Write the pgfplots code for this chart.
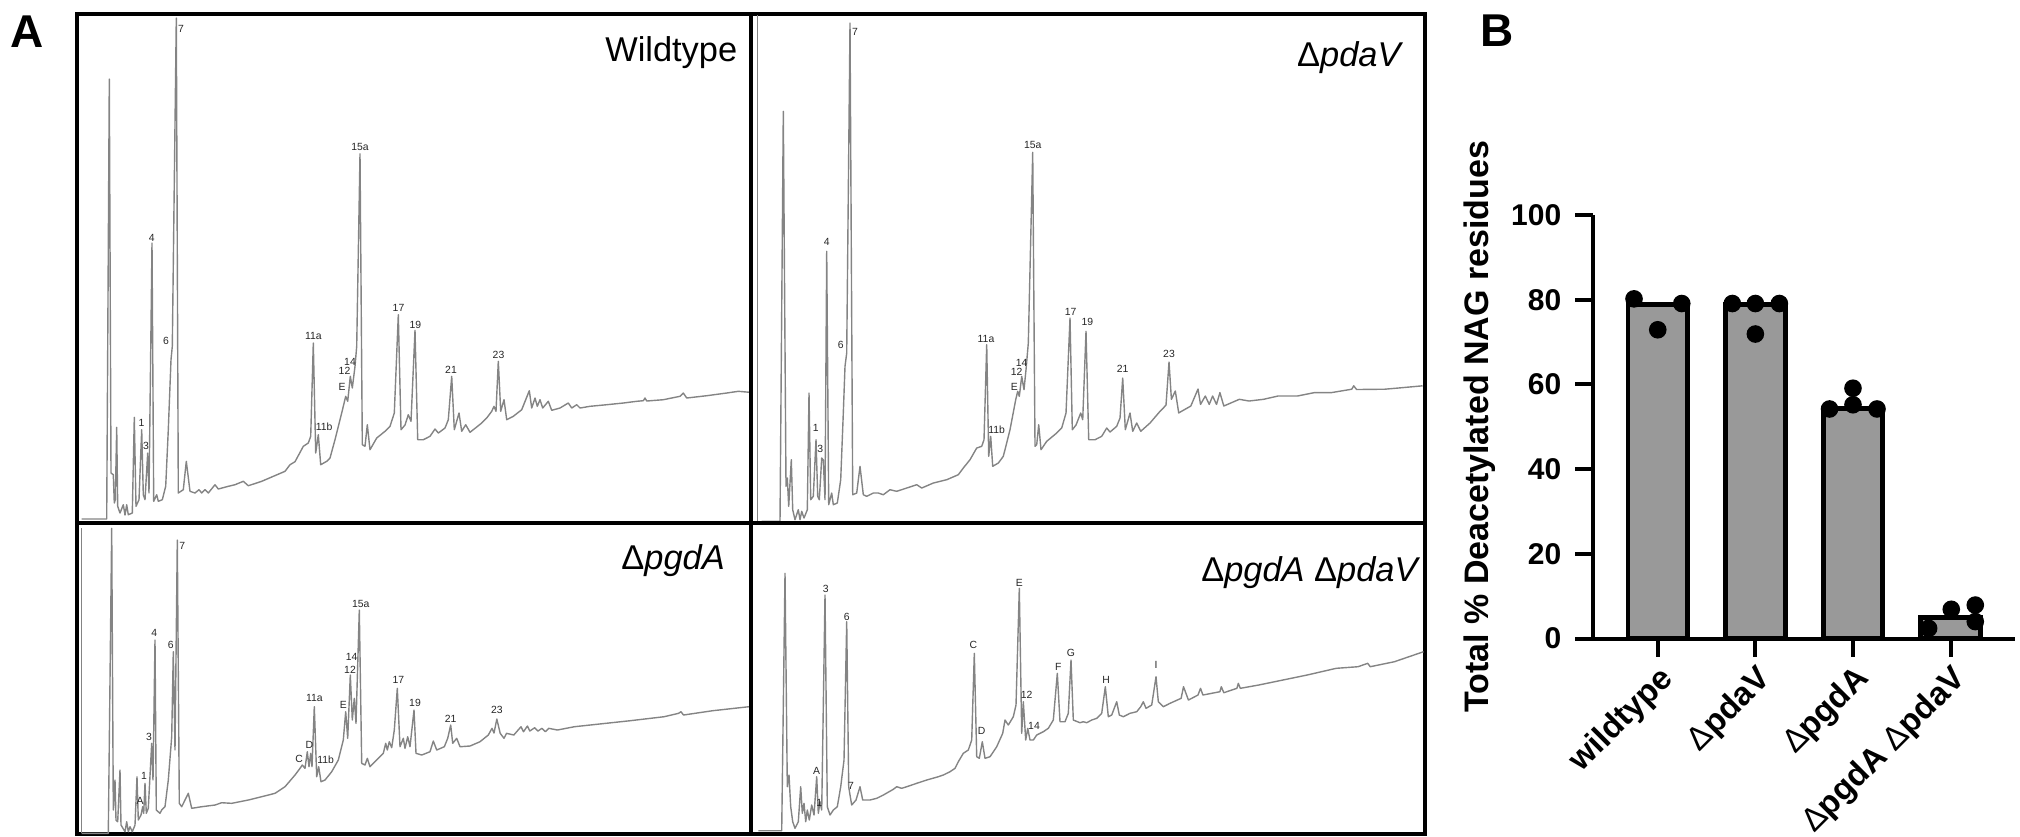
\documentclass[border=0pt]{standalone}
\usepackage{fontspec}
\setmainfont{Liberation Sans}
\usepackage{pgfplots}
\pgfplotsset{compat=1.18}

\definecolor{trace}{RGB}{132,132,132}
\definecolor{barfill}{RGB}{153,153,153}

% chromatograms: coordinates are pixel positions
\pgfplotsset{
  chrom/.style={scale only axis, anchor=south west, y dir=reverse, ticks=none,
    axis line style={line width=1pt}, clip=false},
  trace/.style={color=trace, line width=0.35pt, mark=none, line join=round},
}
\tikzset{
  pk/.style={font=\fontsize{2.6}{3}\selectfont, text=black!85, inner sep=0pt},
  tag/.style={font=\fontsize{8.6}{10}\selectfont, anchor=base east, inner sep=0pt},
}

\begin{document}
\begin{tikzpicture}
\useasboundingbox (0,0) rectangle (505pt,-209pt);

\node[anchor=base west, inner sep=0pt, font=\bfseries\fontsize{11.5}{12}\selectfont] at (2.5pt,-11.75pt) {A};
\node[anchor=base west, inner sep=0pt, font=\bfseries\fontsize{11.5}{12}\selectfont] at (370pt,-11.7pt) {B};

% ---- wildtype
\begin{axis}[chrom, at={(19.125pt,-130.625pt)}, width=168.5pt, height=127.25pt,
  xmin=76.5, xmax=750.5, ymin=13.5, ymax=522.5]
\addplot[trace] coordinates {
(81.7,519) (106.7,519) (109.3,79) (111,473) (113.3,474.7) (114.3,503) (115.3,499.7) (116.7,427.3)
(117.7,506.3) (120,513) (123.3,504.7) (125,515) (126.7,504.7) (128.3,514.7) (132.3,513) (134.3,417.3)
(136,506.3) (139,499.7) (141.7,429.7) (143.3,494.7) (145,499.7) (147.7,453) (149,493) (152,243)
(153.7,501.3) (156.7,494.7) (158.3,501.3) (162.3,499.7) (165.7,486.3) (168.3,429.7) (171,359.7) (172.3,346.3)
(176.3,18) (178.3,493) (183.3,489.7) (186.3,461.3) (190,491.3) (195,493) (199,489.7) (201.7,493)
(205,489.7) (208.3,493) (215,484.7) (218.3,489) (228.3,486.3) (235,484.7) (243.3,481.3) (248.3,485.7)
(261.7,481.3) (273.3,476.3) (285,471.3) (290,464.7) (295,461.7) (303.3,446.3) (308.3,443) (310.7,436.3)
(313.3,343) (315.7,453) (318.3,434.7) (320.7,464.7) (326.7,461.3) (330,458) (335,439.7) (341.7,413)
(345.7,396.3) (347.7,401.3) (350.3,376.3) (352.3,388) (355,366.3) (356.7,346.3) (360,153.7) (362.3,444.7)
(365,446.3) (367.3,424.7) (370,449.7) (376.7,438) (385,431.3) (390,426.3) (394.3,413) (398.3,314.7)
(401,429.7) (405,425) (408.3,414.7) (411,421.3) (415,330.3) (417.7,439.7) (423.3,439.7) (430,436.3)
(435,429) (438.3,433) (445,428) (448.3,419.7) (451.7,376.3) (454.3,429.7) (459,413) (461.7,431.3)
(465.7,424.7) (470,432.3) (481.7,423) (486.7,418) (491.7,411.3) (494,406.3) (496,411.3) (498.3,361.3)
(500.7,411.3) (504,399.7) (506.7,419.7) (513.3,416.3) (521.7,409.7) (529.3,390.7) (531.7,408) (535,398)
(537.3,406.3) (540,399.7) (542.7,408) (548.3,401.3) (551.7,410.3) (560,408) (568.3,403) (571.7,408)
(576.7,404.7) (580,408) (590,406.3) (606.7,404.7) (623.3,403) (636.7,401.3) (643.3,400.7) (645,398)
(646.7,401) (663.3,399.7) (680,396.3) (683.3,393) (686.7,398) (706.7,395.7) (726.7,393) (738.3,391.3)
(750,392.3)
};
\node[tag] at (axis cs:738,61.3) {Wildtype};
\node[pk] at (axis cs:181,29) {7};
\node[pk] at (axis cs:360,147.3) {15a};
\node[pk] at (axis cs:151.7,237.7) {4};
\node[pk] at (axis cs:166,341) {6};
\node[pk] at (axis cs:141.5,423.3) {1};
\node[pk] at (axis cs:146,446.3) {3};
\node[pk] at (axis cs:313.3,336.3) {11a};
\node[pk] at (axis cs:324.2,426.3) {11b};
\node[pk] at (axis cs:342.2,386.7) {E};
\node[pk] at (axis cs:344.5,371) {12};
\node[pk] at (axis cs:350,362) {14};
\node[pk] at (axis cs:398.5,308.3) {17};
\node[pk] at (axis cs:415.3,324.5) {19};
\node[pk] at (axis cs:451,370) {21};
\node[pk] at (axis cs:498.5,355) {23};
\end{axis}

% ---- delta pdaV
\begin{axis}[chrom, at={(187.625pt,-130.625pt)}, width=168.625pt, height=127.25pt,
  xmin=750.5, xmax=1425, ymin=13.5, ymax=522.5]
\addplot[trace] coordinates {(757.3,15) (757.3,522)};
\addplot[trace] coordinates {
(761.7,521.3) (780,521.3) (783.3,111.3) (786,486.3) (787.3,478) (788.7,506.3) (791.3,459.7) (792.7,509.7)
(795,519.7) (798.3,509.7) (800,519.7) (801.7,511.3) (804,518) (807.3,509.7) (809,393) (810.7,499.7)
(813.3,496.3) (816,439.7) (817.7,496.3) (819.3,499.7) (821.7,458) (823.3,460) (825,499.7) (826.7,251.3)
(828.7,504.7) (831.7,493) (833.3,504.7) (837.3,503) (840.7,479.7) (843.3,413) (845,366.3) (846.7,353)
(850,23) (852.7,494.7) (856.7,493) (860,466.3) (863.3,494.7) (866.7,496.3) (873.3,493) (878.3,493)
(883.3,494.7) (890,489.7) (896.7,491.3) (906.7,488) (916.7,484.7) (921.7,488) (933.3,483) (946.7,479.7)
(958.3,474.7) (963.3,468) (970,459.7) (976.7,448) (981.7,446.3) (984,439.7) (986.7,344.7) (988.7,456.3)
(990.7,436.3) (992.7,466.3) (998.3,463) (1003.3,456.3) (1010,429.7) (1015.7,399.7) (1017.7,391.3) (1019.3,396.3)
(1021.7,376.3) (1024,389.7) (1026,369.7) (1028.3,343) (1032.7,152.3) (1035,446.3) (1036.7,444.7) (1038.7,424.7)
(1041,449.7) (1046.7,441.3) (1056.7,433) (1061.7,428) (1066,413) (1070,318) (1072.3,429.7) (1076,425)
(1080.7,413) (1082.7,419.7) (1086,331.3) (1088.7,439.7) (1095,439.7) (1101.7,436.3) (1106.7,428) (1110,432)
(1116.7,426.3) (1120,418) (1122.7,378) (1125.3,429.7) (1130,413) (1132.7,431.3) (1136.7,423) (1140.7,431.3)
(1150,423) (1160,411.3) (1163.3,408) (1166,405) (1169,362) (1171.4,399.3) (1175.3,391) (1178.7,412.9)
(1190.8,406) (1198,389) (1200.5,404.4) (1205.3,396) (1209.2,404.4) (1212.6,396) (1216.5,404.4) (1219.9,392.6)
(1223.8,406) (1239.3,399.3) (1249,401) (1263.5,399.3) (1278,396) (1297.4,396) (1314.4,392.6) (1331.4,392.6)
(1351.7,389.2) (1353.7,385.8) (1356.6,389.5) (1384.7,389.2) (1404,387.5) (1422.5,385.8)
};
\node[tag] at (axis cs:1404,66) {Δ\textit{pdaV}};
\node[pk] at (axis cs:855,32.3) {7};
\node[pk] at (axis cs:1032.7,145.3) {15a};
\node[pk] at (axis cs:826.7,242.3) {4};
\node[pk] at (axis cs:840.7,345.3) {6};
\node[pk] at (axis cs:815.7,428) {1};
\node[pk] at (axis cs:820.3,449) {3};
\node[pk] at (axis cs:986,339) {11a};
\node[pk] at (axis cs:996.7,429.7) {11b};
\node[pk] at (axis cs:1014.3,387.3) {E};
\node[pk] at (axis cs:1016.7,372.3) {12};
\node[pk] at (axis cs:1021.7,363) {14};
\node[pk] at (axis cs:1070.7,312.3) {17};
\node[pk] at (axis cs:1087.3,322.3) {19};
\node[pk] at (axis cs:1122.7,369) {21};
\node[pk] at (axis cs:1169,353.6) {23};
\end{axis}

% ---- delta pgdA
\begin{axis}[chrom, at={(19.125pt,-208.5pt)}, width=168.5pt, height=77.875pt,
  xmin=76.5, xmax=750.5, ymin=522.5, ymax=834]
\addplot[trace] coordinates {(81.7,528) (81.7,833)};
\addplot[trace] coordinates {
(81.7,833.3) (108.3,833.3) (111.7,528.3) (113.3,810) (115,780) (116,820) (117.7,821.7) (120,770)
(121,825) (125,831.7) (126.7,821.7) (128.3,831.7) (130,826.7) (132.3,831.7) (135,825) (137,776.7)
(138.3,820) (141,815) (142.7,806.7) (143.7,813.3) (145,783.3) (146.3,813.3) (148.3,808.3) (151.7,743.3)
(153,780) (155,640) (156.3,810) (160,813.3) (161.7,810) (165,806.7) (168.3,780) (171.7,736.7)
(173.3,651.7) (175,750) (177.3,540) (179.3,803.3) (181.7,806.7) (188.3,793.3) (191.7,808.3) (201.7,806.7)
(215,805) (221.7,802.7) (231.7,803.3) (248.3,800) (261.7,796.7) (275,793.3) (285,786.7) (295,775)
(300,768.3) (302.3,765) (305,768.3) (307.3,751.7) (309,766.7) (310.7,753.3) (312,766.7) (314.3,706.7)
(316.7,776.7) (318.7,766.7) (321,781.7) (325,780) (331.7,771.7) (338.3,760) (343.3,740) (345.7,711.7)
(347.7,738.3) (350.3,675) (352.3,720) (354.3,698.3) (356,723.3) (359.3,610) (361.7,763.3) (365,765)
(367.3,758.3) (370,766.7) (376.7,760) (383.3,753.3) (385.7,743.3) (387.3,750) (389.3,741.7) (391.7,747.7)
(394.3,730) (397.3,688.3) (400,746.7) (403.3,738.3) (405,748.3) (407.7,736.7) (410,746.7) (414,710)
(416,753.3) (421.7,755) (430,751.7) (433.3,741) (436.7,750) (444.3,746.7) (447.7,738.3) (450.7,725)
(452.7,743.3) (456.7,738.3) (460,746.7) (470,746) (480,741.7) (488.3,735) (492,728.3) (494,733)
(496.8,719) (500.2,733.3) (504,738.3) (506.5,733.3) (513.8,735) (521,726.7) (523.5,731.7) (527.4,726)
(529.8,731) (534.7,727.7) (538,731) (541.9,728.3) (545.3,731.7) (548.7,728.3) (557.4,730) (574.4,726.7)
(605.9,723.3) (630.2,720.7) (664.1,716.7) (678.6,713.3) (681,711.7) (683.5,715) (712.6,710.7) (748.9,706.7)
};
\node[tag] at (axis cs:725.6,569.3) {Δ\textit{pgdA}};
\node[pk] at (axis cs:182.3,546) {7};
\node[pk] at (axis cs:360.7,604.3) {15a};
\node[pk] at (axis cs:154.3,633.3) {4};
\node[pk] at (axis cs:170.7,645) {6};
\node[pk] at (axis cs:351.7,657.3) {14};
\node[pk] at (axis cs:350,670) {12};
\node[pk] at (axis cs:398.3,680) {17};
\node[pk] at (axis cs:314.3,698.3) {11a};
\node[pk] at (axis cs:343.3,705) {E};
\node[pk] at (axis cs:415,703.3) {19};
\node[pk] at (axis cs:450.7,719) {21};
\node[pk] at (axis cs:149,736.7) {3};
\node[pk] at (axis cs:309.3,745) {D};
\node[pk] at (axis cs:299,759) {C};
\node[pk] at (axis cs:325.7,759.3) {11b};
\node[pk] at (axis cs:144,776) {1};
\node[pk] at (axis cs:140,801) {A};
\node[pk] at (axis cs:496.8,710) {23};
\end{axis}

% ---- delta pgdA delta pdaV
\begin{axis}[chrom, at={(187.625pt,-208.5pt)}, width=168.625pt, height=77.875pt,
  xmin=750.5, xmax=1425, ymin=522.5, ymax=834]
\addplot[trace] coordinates {
(758.3,830.7) (781.7,830.7) (785,573.3) (787.3,786.7) (789,775) (790.7,806.7) (792.7,821.7) (795,828.3)
(798.3,821.7) (800.7,786.7) (802.3,813.3) (804,803.3) (805.7,821.7) (807.3,810) (809.3,820) (811.7,805)
(814,815) (816.7,776.7) (818.3,813.3) (820,801.7) (821.7,810) (825,595) (827.3,806.7) (830,815)
(833.3,810) (837.3,806.7) (840.7,786.7) (844,760) (846.7,621.7) (848.7,786.7) (850,795) (851.7,805)
(856,800) (860,786.7) (862.7,800) (870,800) (876.7,798.3) (883.3,795) (893.3,789.3) (896.7,786.7)
(901.7,788.3) (906.7,786.7) (916.7,783.3) (926.7,780) (938.3,776.7) (943.3,775) (950,771.7) (955,768.3)
(958.3,761.7) (963.3,753.3) (968.3,750) (971.7,740) (974.3,653.3) (976.7,756.7) (979.3,758.3) (982.3,741.7)
(985,758.3) (990,756.7) (996.7,746.7) (1002.7,733.3) (1005,720) (1008.3,725) (1013.3,716.7) (1016,705)
(1019.3,588.3) (1021.7,733.3) (1023.3,701.7) (1025.7,740) (1027.7,728.3) (1030,740) (1033.3,740) (1036.7,735)
(1043.3,731.7) (1048.3,728.3) (1053.3,720) (1057.3,673.3) (1060,721.7) (1065,721.7) (1068.3,713.3) (1071,660)
(1073.3,720) (1080,722.7) (1083.3,721.7) (1086.7,722.7) (1091.7,720) (1096.7,718.3) (1101.7,713.3) (1105.3,686.7)
(1108.3,716.7) (1111.7,715) (1116.7,701.7) (1119.3,715) (1123.3,716.7) (1130,713.3) (1136.7,711.7) (1140.7,706.7)
(1143.3,701.7) (1146,708.3) (1151.7,705) (1156,676.7) (1158.3,701.7) (1163.3,706.7) (1170,703.3) (1181.1,698.3)
(1183.5,686.7) (1188.4,700) (1198,695) (1200.5,688.3) (1202.9,695) (1219.9,691.7) (1221.3,686.7) (1223.8,692.7)
(1236.9,688.3) (1238.3,683.3) (1240.3,688.3) (1258.7,685) (1282.9,680) (1307.1,675) (1336.2,668.3) (1358,666.7)
(1367.7,663.3) (1370.2,666.7) (1394.4,661.7) (1423.5,651.7)
};
\node[tag] at (axis cs:1421,581.7) {Δ\textit{pgdA} Δ\textit{pdaV}};
\node[pk] at (axis cs:825.7,589.3) {3};
\node[pk] at (axis cs:846.7,616.7) {6};
\node[pk] at (axis cs:1019.3,583.3) {E};
\node[pk] at (axis cs:973.3,645) {C};
\node[pk] at (axis cs:1071,652.7) {G};
\node[pk] at (axis cs:1058.3,666.7) {F};
\node[pk] at (axis cs:1106,680) {H};
\node[pk] at (axis cs:1156,665) {I};
\node[pk] at (axis cs:1026.7,695) {12};
\node[pk] at (axis cs:1034,726) {14};
\node[pk] at (axis cs:981.7,730.7) {D};
\node[pk] at (axis cs:816.7,770.7) {A};
\node[pk] at (axis cs:851,786) {7};
\node[pk] at (axis cs:819.3,802.7) {1};
\end{axis}

% ---- panel B
\begin{axis}[
  scale only axis, anchor=south west, at={(398.325pt,-159.625pt)},
  width=105.425pt, height=105.875pt,
  xmin=-0.66, xmax=3.66, ymin=0, ymax=100,
  axis x line=bottom, axis y line=left,
  axis line style={line width=1pt, -},
  ytick={0,20,40,60,80,100},
  xtick={0,1,2,3},
  xticklabels={wildtype, {{\mdseries Δ}pdaV}, {{\mdseries Δ}pgdA}, {{\mdseries Δ}pgdA {\mdseries Δ}pdaV}},
  tick align=outside,
  major tick length=4.5pt,
  major tick style={black, line width=1pt},
  tick label style={font=\bfseries\fontsize{7.5}{9}\selectfont},
  /pgf/number format/assume math mode=true,
  xticklabel style={rotate=45, anchor=north east, inner sep=1pt,
    font=\bfseries\fontsize{8.2}{10}\selectfont},
  ylabel={Total \% Deacetylated NAG residues},
  ylabel style={font=\bfseries\fontsize{8.5}{10}\selectfont,
    at={(axis description cs:-0.269,0.5)}, anchor=center},
  clip=false,
]
\addplot[ybar, bar width=0.61, bar shift=0pt, fill=barfill, draw=black, line width=1.2pt]
  coordinates {(0,78.8) (1,78.8) (2,54.3) (3,5.0)};
\addplot[only marks, mark=*, mark size=2pt, black] coordinates {
  (-0.243,80.2) (0,72.9) (0.246,79.1)
  (0.764,79.1) (1,79.1) (1.246,79.1) (1,71.9)
  (1.76,54.2) (2,55.2) (2,59.1) (2.246,54.2)
  (2.775,2.4) (3.007,6.9) (3.253,7.9) (3.253,4.0)
};
\end{axis}
\end{tikzpicture}
\end{document}
